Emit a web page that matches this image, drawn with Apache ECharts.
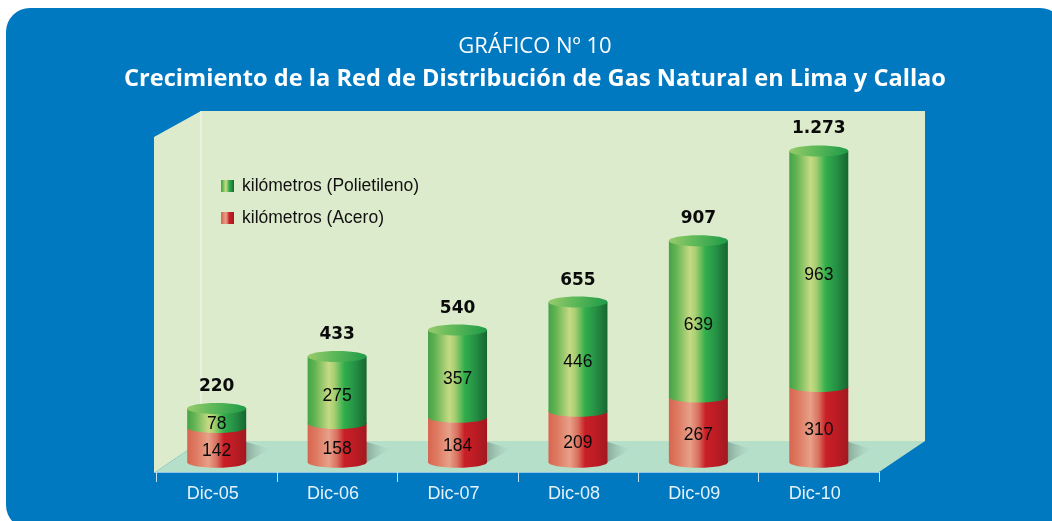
<!DOCTYPE html>
<html>
<head>
<meta charset="utf-8">
<style>html,body{margin:0;padding:0;background:#fff}#c{width:1052px;height:521px}</style>
<script src="https://cdn.jsdelivr.net/npm/echarts@6/dist/echarts.min.js"></script>
</head>
<body>
<div id="c"></div>
<script>
const categories = ['Dic-05','Dic-06','Dic-07','Dic-08','Dic-09','Dic-10'];
const acero = [142,158,184,209,267,310];
const polietileno = [78,275,357,446,639,963];
const totals = [220,433,540,655,907,1273];
const nameAcero = 'kilómetros (Acero)';
const namePoli = 'kilómetros (Polietileno)';

function hGrad(stops){
  return {type:'linear',x:0,y:0,x2:1,y2:0,colorStops:stops.map(s=>({offset:s[0],color:s[1]}))};
}
const greenGrad = hGrad([[0,'#45a348'],[0.12,'#62b352'],[0.36,'#c6da84'],[0.45,'#a9cf72'],[0.62,'#31ae4c'],[0.8,'#259045'],[1,'#17662f']]);
const redGrad = hGrad([[0,'#d8654f'],[0.15,'#de7a62'],[0.36,'#e8a088'],[0.5,'#d9705f'],[0.62,'#c91f27'],[0.8,'#bc1c24'],[1,'#a2181f']]);
const capGrad = {type:'linear',x:0,y:0,x2:1,y2:0.6,colorStops:[{offset:0,color:'#9acb6c'},{offset:0.45,color:'#5cb858'},{offset:1,color:'#1f9a48'}]};

function cylinder(grad, withCap, withShadow){
  return function(params, api){
    const i = api.value(0);
    const pTop = api.coord([i, api.value(2)]);
    const pBase = api.coord([i, api.value(1)]);
    const w = api.size([1,0])[0] * 0.49;
    const rx = w/2, ry = 5.5, cx = pTop[0];
    const kids = [];
    if (withShadow) {
      kids.push({type:'polygon',
        shape:{points:[[cx+rx-2,pBase[1]-21],[cx+rx+24,pBase[1]-13],[cx+rx-2,pBase[1]+1]]},
        style:{fill:{type:'linear',x:0,y:0,x2:1,y2:0,colorStops:[{offset:0,color:'rgba(90,115,105,0.55)'},{offset:1,color:'rgba(150,190,170,0)'}]}}});
    }
    kids.push({type:'ellipse',shape:{cx:cx,cy:pBase[1],rx:rx,ry:ry},style:{fill:grad}});
    kids.push({type:'rect',shape:{x:cx-rx,y:pTop[1],width:w,height:pBase[1]-pTop[1]},style:{fill:grad}});
    if (withCap) {
      kids.push({type:'ellipse',shape:{cx:cx,cy:pTop[1],rx:rx,ry:ry},style:{fill:capGrad}});
    }
    kids.push({type:'text',style:{text:String(api.value(3)),x:cx,y:(pTop[1]+pBase[1])/2+6,
      align:'center',verticalAlign:'middle',fill:'#0a0a0a',font:'17.5px "Liberation Sans"'}});
    return {type:'group',children:kids};
  };
}

const blue = '#0079c1';
const wall = '#dcebcc';
const floor = '#b6dfca';
const bg = [
  {type:'rect',z:-10,shape:{x:6,y:8,width:1058,height:521,r:24},style:{fill:blue}},
  {type:'polygon',z:-9,shape:{points:[[201,111],[925,111],[925,441],[201,441]]},style:{fill:wall}},
  {type:'polygon',z:-9,shape:{points:[[154,137],[201,111],[201,441],[154,473]]},style:{fill:wall}},
  {type:'polygon',z:-8,shape:{points:[[154,473],[201,441],[925,441],[879,472]]},style:{fill:floor}},
  {type:'line',z:-7,shape:{x1:201,y1:111,x2:201,y2:441},style:{stroke:'#f4f9ee',lineWidth:1}},
  {type:'line',z:-7,shape:{x1:154,y1:472.5,x2:879,y2:472.5},style:{stroke:'#8fc7e6',lineWidth:1}}
];

const chart = echarts.init(document.getElementById('c'),null,{renderer:'canvas'});
chart.setOption({
  animation:false,
  backgroundColor:'#fff',
  graphic:{elements:bg},
  title:[
    {text:'GRÁFICO Nº 10',left:530,top:31,textAlign:'center',
      textStyle:{color:'#fff',fontFamily:'Open Sans',fontWeight:'normal',fontSize:22}},
    {text:'Crecimiento de la Red de Distribución de Gas Natural en Lima y Callao',left:530,top:62,textAlign:'center',
      textStyle:{color:'#fff',fontFamily:'Open Sans',fontWeight:'bold',fontSize:23.6}}
  ],
  legend:{
    orient:'vertical',left:216,top:172,itemWidth:13,itemHeight:12,itemGap:14,
    data:[namePoli,nameAcero],
    icon:'rect',
    textStyle:{color:'#111',fontFamily:'Liberation Sans',fontSize:17.5,padding:[0,0,0,3]}
  },
  grid:{left:156.5,right:173,top:120,bottom:49},
  xAxis:{
    type:'category',data:categories,
    axisLine:{show:false,onZero:false},
    axisTick:{show:true,length:10,lineStyle:{color:'#c4e2f4',width:1}},
    axisLabel:{color:'#e6f2fa',fontFamily:'Liberation Sans',fontSize:18,margin:13,padding:[0,8,0,0]}
  },
  yAxis:{type:'value',min:-40,max:1400,interval:40,show:false,splitLine:{show:false}},
  series:[
    {name:nameAcero,type:'custom',coordinateSystem:'cartesian2d',itemStyle:{color:redGrad},
      renderItem:cylinder(redGrad,false,true),encode:{x:0,y:[1,2]},
      data:acero.map((v,i)=>[i,0,v,v])},
    {name:namePoli,type:'custom',coordinateSystem:'cartesian2d',itemStyle:{color:greenGrad},
      renderItem:cylinder(greenGrad,true,false),encode:{x:0,y:[1,2]},
      data:polietileno.map((v,i)=>[i,acero[i],acero[i]+v,v])},
    {name:'Total',type:'line',data:totals,symbol:'circle',symbolSize:1,showSymbol:true,
      itemStyle:{color:'rgba(0,0,0,0)'},lineStyle:{width:0,opacity:0},silent:true,z:5,
      label:{show:true,position:'top',distance:13,color:'#0a0a0a',fontFamily:'DejaVu Sans',fontWeight:'bold',fontSize:17,
        formatter:p=>String(p.value).replace(/\B(?=(\d{3})+$)/g,'.')}}
  ]
});
</script>
</body>
</html>
